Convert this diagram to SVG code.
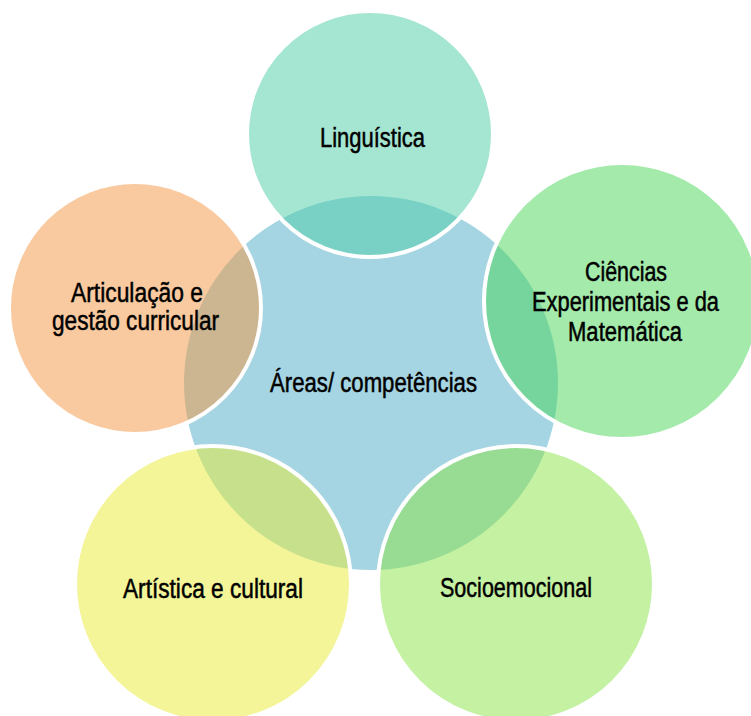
<svg xmlns="http://www.w3.org/2000/svg" width="751" height="716" viewBox="0 0 751 716">
  <style>
    .outer { stroke: #ffffff; stroke-width: 4; fill-opacity: 0.5; }
    .label { font-family: "Liberation Sans", Arial, sans-serif; font-size: 27px; fill: #000000; stroke: #000000; stroke-width: 0.5; }
  </style>
  <rect x="0" y="0" width="751" height="716" fill="#ffffff"/>
  <g id="center">
    <circle cx="371" cy="383" r="187" fill="#a5d5e2"/>
  </g>
  <g id="node-linguistica">
    <circle class="outer" cx="370" cy="134" r="123" fill="#4bcda5"/>
  </g>
  <g id="node-articulacao">
    <circle class="outer" cx="135" cy="308" r="126" fill="#f3953f"/>
  </g>
  <g id="node-ciencias">
    <circle class="outer" cx="622" cy="301" r="138" fill="#47d557"/>
  </g>
  <g id="node-artistica">
    <circle class="outer" cx="213" cy="584" r="138" fill="#e9eb33"/>
  </g>
  <g id="node-socioemocional">
    <circle class="outer" cx="516" cy="584" r="138" fill="#8be345"/>
  </g>
  <g id="connectors"></g>
  <g id="labels">
    <text class="label" x="320" y="147" textLength="105" lengthAdjust="spacingAndGlyphs">Linguística</text>
    <text class="label" x="270" y="392" textLength="207" lengthAdjust="spacingAndGlyphs">Áreas/ competências</text>
    <text class="label" x="71" y="302" textLength="132" lengthAdjust="spacingAndGlyphs">Articulação e</text>
    <text class="label" x="52" y="330" textLength="167" lengthAdjust="spacingAndGlyphs">gestão curricular</text>
    <text class="label" x="585" y="281" textLength="82" lengthAdjust="spacingAndGlyphs">Ciências</text>
    <text class="label" x="532" y="311" textLength="187" lengthAdjust="spacingAndGlyphs">Experimentais e da</text>
    <text class="label" x="568" y="341" textLength="114" lengthAdjust="spacingAndGlyphs">Matemática</text>
    <text class="label" x="123" y="598" textLength="180" lengthAdjust="spacingAndGlyphs">Artística e cultural</text>
    <text class="label" x="440" y="597" textLength="152" lengthAdjust="spacingAndGlyphs">Socioemocional</text>
  </g>
</svg>
